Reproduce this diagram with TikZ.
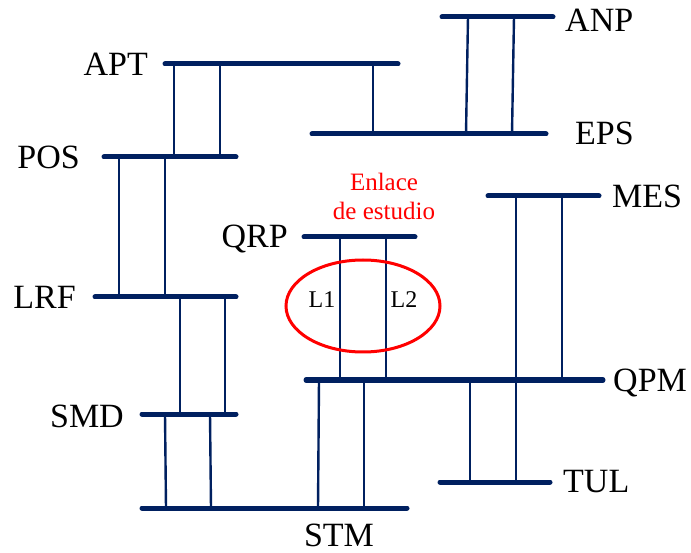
\documentclass[tikz,border=0pt]{standalone}
\usepackage{fontspec}
\setmainfont{Liberation Serif}
\usepackage{xcolor}
\usetikzlibrary{positioning,calc,shapes.geometric}
\definecolor{busblue}{RGB}{0,32,96}
\tikzset{
  bus/.style     = {draw=busblue, line width=5pt, line cap=round},
  tie/.style     = {draw=busblue, line width=2.4pt},
  busname/.style = {inner sep=0pt, text height=22.5pt, text depth=0pt,
                    font=\fontsize{34}{40}\selectfont},
  linename/.style= {inner sep=0pt, text height=16pt, text depth=0pt,
                    font=\fontsize{24}{28}\selectfont},
  note/.style    = {inner sep=0pt, text=red, font=\fontsize{25}{29}\selectfont},
  study/.style   = {draw=red, line width=3pt, ellipse, inner sep=0pt,
                    minimum width=154pt, minimum height=92pt},
}
\begin{document}
\begin{tikzpicture}[x=1pt,y=-1pt]
\useasboundingbox (0,0) rectangle (691,553);
% bus ends
\coordinate (ANP-w) at (442,17);  \coordinate (ANP-e) at (553,17);
\coordinate (APT-w) at (165,64);  \coordinate (APT-e) at (398,64);
\coordinate (EPS-w) at (312,134); \coordinate (EPS-e) at (546,134);
\coordinate (POS-w) at (104,157); \coordinate (POS-e) at (236,157);
\coordinate (MES-w) at (488,196); \coordinate (MES-e) at (599,196);
\coordinate (QRP-w) at (304,237); \coordinate (QRP-e) at (415,237);
\coordinate (LRF-w) at (95,297);  \coordinate (LRF-e) at (236,297);
\coordinate (QPM-w) at (306,380); \coordinate (QPM-e) at (603,380);
\coordinate (SMD-w) at (142,414); \coordinate (SMD-e) at (236,414);
\coordinate (TUL-w) at (440,482); \coordinate (TUL-e) at (550,482);
\coordinate (STM-w) at (142,508); \coordinate (STM-e) at (407,508);

\foreach \b in {ANP,APT,EPS,POS,MES,QRP,LRF,QPM,SMD,TUL,STM}
  \draw[bus] (\b-w) -- (\b-e);

% lines between buses
\draw[tie] (174,0 |- APT-w) -- (174,0 |- POS-w);
\draw[tie] (220,0 |- APT-w) -- (220,0 |- POS-w);
\draw[tie] (373,0 |- APT-w) -- (373,0 |- EPS-w);
\draw[tie] (468,0 |- ANP-w) -- (466,0 |- EPS-w);
\draw[tie] (514,0 |- ANP-w) -- (512,0 |- EPS-w);
\draw[tie] (119,0 |- POS-w) -- (119,0 |- LRF-w);
\draw[tie] (165,0 |- POS-w) -- (165,0 |- LRF-w);
\draw[tie] (180,0 |- LRF-w) -- (180,0 |- SMD-w);
\draw[tie] (225,0 |- LRF-w) -- (225,0 |- SMD-w);
\draw[tie] (165,0 |- SMD-w) -- (166,0 |- STM-w);
\draw[tie] (210,0 |- SMD-w) -- (211,0 |- STM-w);
\draw[tie] (340,0 |- QRP-w) -- (340,0 |- QPM-w);
\draw[tie] (386,0 |- QRP-w) -- (386,0 |- QPM-w);
\draw[tie] (319,0 |- QPM-w) -- (318,0 |- STM-w);
\draw[tie] (364,0 |- QPM-w) -- (364,0 |- STM-w);
\draw[tie] (516,0 |- MES-w) -- (516,0 |- QPM-w);
\draw[tie] (562,0 |- MES-w) -- (562,0 |- QPM-w);
\draw[tie] (470,0 |- QPM-w) -- (470,0 |- TUL-w);
\draw[tie] (516,0 |- QPM-w) -- (516,0 |- TUL-w);

% bus names
\node[busname, anchor=west] (tANP) at (565,20)  {ANP};
\node[busname, anchor=east] (tAPT) at (148,64)  {APT};
\node[busname, anchor=west] (tEPS) at (575,133) {EPS};
\node[busname, anchor=east] (tPOS) at (80,157)  {POS};
\node[busname, anchor=west] (tMES) at (612,196) {MES};
\node[busname, anchor=east] (tQRP) at (288,236) {QRP};
\node[busname, anchor=east] (tLRF) at (76,297)  {LRF};
\node[busname, anchor=west] (tQPM) at (613,380) {QPM};
\node[busname, anchor=east] (tSMD) at (124,416) {SMD};
\node[busname, anchor=west] (tTUL) at (563,481) {TUL};
\node[busname]              (tSTM) at (339,535) {STM};

% link under study
\node[study] (enlace) at (363,306) {};
\node[linename] (tL1) at (322,300) {L1};
\node[linename] (tL2) at (404,300) {L2};
\node[note, anchor=base] (note1) at (384,191) {Enlace};
\node[note, anchor=base] (note2) at (384,220) {de estudio};
\end{tikzpicture}
\end{document}
